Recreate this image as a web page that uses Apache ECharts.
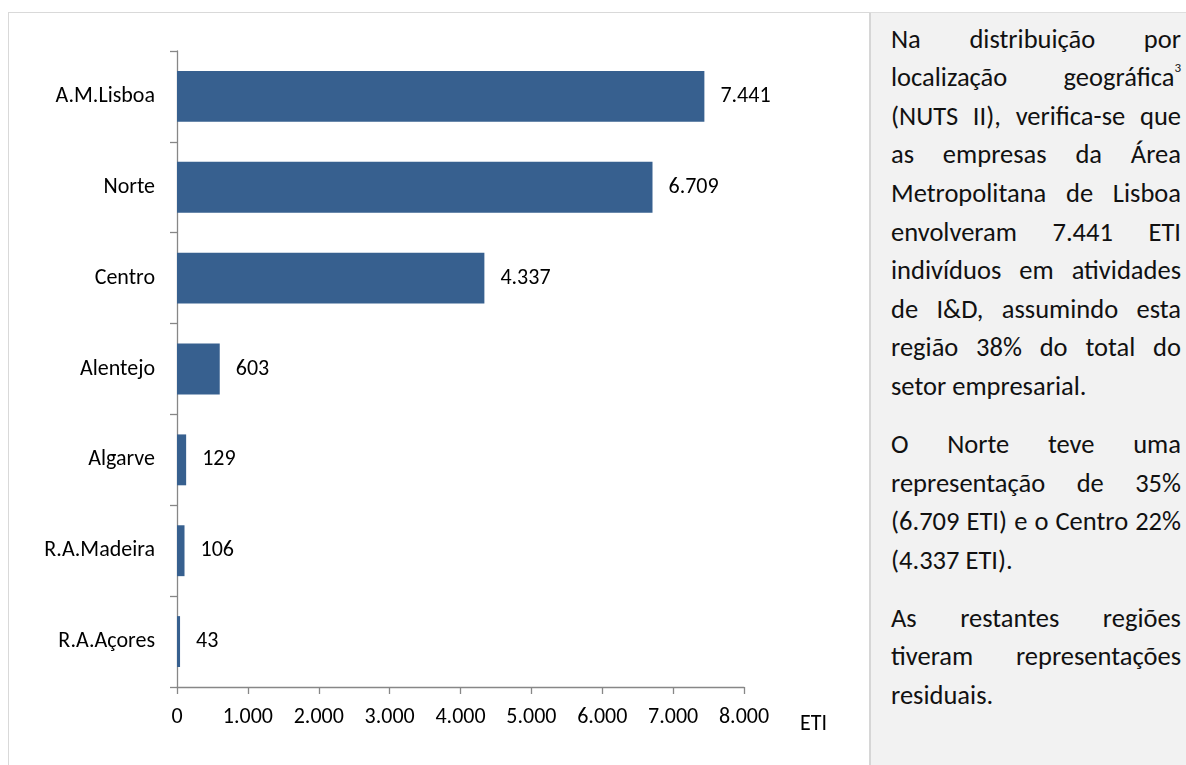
<!DOCTYPE html>
<html>
<head>
<meta charset="utf-8">
<script src="https://cdn.jsdelivr.net/npm/echarts@6/dist/echarts.min.js"></script>
<style>
  html, body { margin: 0; padding: 0; background: #ffffff; }
  body { width: 1186px; height: 765px; position: relative; overflow: hidden; font-family: Carlito, Calibri, Lato, sans-serif; }
  #frame { position: absolute; left: 8px; top: 12px; width: 1200px; height: 800px; border-left: 1px solid #d9d9d9; border-top: 1px solid #d9d9d9; box-sizing: border-box; }
  #chart { position: absolute; left: 0; top: 0; width: 1186px; height: 765px; }
  #panel { position: absolute; left: 869px; top: 12px; width: 317px; height: 760px; background: #f2f2f2; border-left: 2px solid #d6d6d6; border-top: 1px solid #dedede; box-sizing: border-box; }
  #txt { position: absolute; left: 20px; top: 6.7px; width: 290px; font-size: 26.5px; line-height: 38.6px; color: #111; }
  .ln { display: flex; justify-content: space-between; white-space: nowrap; height: 38.6px; }
  .last { display: block; white-space: nowrap; height: 38.6px; }
  .par { margin-bottom: 19.3px; }
  sup { font-size: 13px; line-height: 0; vertical-align: 0; position: relative; top: -14px; }
</style>
</head>
<body>
<div id="frame"></div>
<div id="chart"></div>
<div id="panel"><div id="txt"></div></div>
<script>
// ---- data ----
const categories = ['A.M.Lisboa', 'Norte', 'Centro', 'Alentejo', 'Algarve', 'R.A.Madeira', 'R.A.Açores'];
const values = [7441, 6709, 4337, 603, 129, 106, 43];
const xMin = 0;
const xMax = 8000;
const xInterval = 1000;
const xAxisName = 'ETI';
const paragraphs = [
  ['Na distribuição por', 'localização geográfica<sup>3</sup>', '(NUTS II), verifica-se que', 'as empresas da Área', 'Metropolitana de Lisboa', 'envolveram 7.441 ETI', 'indivíduos em atividades', 'de I&amp;D, assumindo esta', 'região 38% do total do', 'setor empresarial.'],
  ['O Norte teve uma', 'representação de 35%', '(6.709 ETI) e o Centro 22%', '(4.337 ETI).'],
  ['As restantes regiões', 'tiveram representações', 'residuais.']
];

// ---- text panel ----
const txt = document.getElementById('txt');
paragraphs.forEach(function (lines) {
  const p = document.createElement('div');
  p.className = 'par';
  lines.forEach(function (line, i) {
    const d = document.createElement('div');
    if (i === lines.length - 1) {
      d.className = 'last';
      d.innerHTML = line;
    } else {
      d.className = 'ln';
      d.innerHTML = line.split(' ').map(function (w) { return '<span>' + w + '</span>'; }).join('');
    }
    p.appendChild(d);
  });
  txt.appendChild(p);
});

// ---- chart ----
function fmt(v) { return String(v).replace(/\B(?=(\d{3})+(?!\d))/g, '.'); }
const FONT = 'Carlito, Calibri, Lato, sans-serif';
const axisColor = '#878787';
const chart = echarts.init(document.getElementById('chart'), null, { renderer: 'canvas' });
chart.setOption({
  animation: false,
  backgroundColor: 'transparent',
  grid: { left: 177, top: 51, width: 567, height: 636, containLabel: false },
  xAxis: {
    type: 'value', min: xMin, max: xMax, interval: xInterval,
    axisLine: { show: true, lineStyle: { color: axisColor, width: 1.3 } },
    axisTick: { show: true, length: 7, lineStyle: { color: axisColor, width: 1.3 } },
    splitLine: { show: false },
    axisLabel: { color: '#000', fontFamily: FONT, fontSize: 22, margin: 19, formatter: fmt }
  },
  yAxis: {
    type: 'category', data: categories, inverse: true,
    axisLine: { show: true, lineStyle: { color: axisColor, width: 1.3 } },
    axisTick: { show: true, length: 7, alignWithLabel: false, lineStyle: { color: axisColor, width: 1.3 } },
    axisLabel: { color: '#000', fontFamily: FONT, fontSize: 22, margin: 22 }
  },
  graphic: [{
    type: 'text', left: 800, top: 713,
    style: { text: xAxisName, fill: '#000', font: '22px ' + FONT }
  }],
  series: [{
    type: 'bar', data: values, barWidth: '56%',
    itemStyle: { color: '#37608f' },
    label: { show: true, position: 'right', distance: 16, color: '#000', fontFamily: FONT, fontSize: 22, formatter: function (p) { return fmt(p.value); } }
  }]
});
</script>
</body>
</html>
